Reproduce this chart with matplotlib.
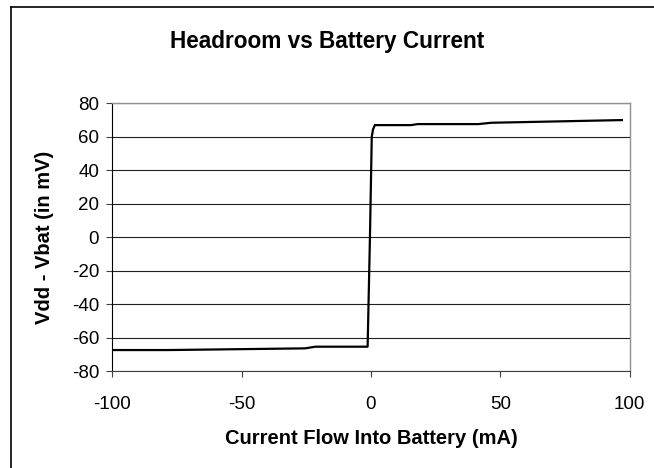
import matplotlib.pyplot as plt
from matplotlib.lines import Line2D

plt.rcParams['font.family'] = ['Liberation Sans', 'DejaVu Sans']
plt.rcParams['axes.unicode_minus'] = False

# headroom (Vdd - Vbat) against current into the battery
current_ma = [-100, -78, -25.5, -21.5, -1.3, -0.4, 0.3, 0.8, 1.5, 15.5, 18, 41.5, 46.5, 97]
headroom_mv = [-67.3, -67.3, -66.3, -65.3, -65.3, 0, 60, 64.5, 67.0, 67.0, 67.6, 67.6, 68.4, 70.0]

x_ticks = [-100, -50, 0, 50, 100]
y_ticks = list(range(-80, 81, 20))

fig = plt.figure(figsize=(6.54, 4.68), dpi=100)
ax = fig.add_axes([0.1717, 0.2066, 0.7911, 0.5726])

ax.plot(current_ma, headroom_mv, color='black', lw=1.6, solid_joinstyle='round')

ax.set_xlim(-100, 100)
ax.set_ylim(-80, 80)
ax.set_xticks(x_ticks)
ax.set_yticks(y_ticks)
ax.tick_params(labelsize=13.5, length=4.5, width=0.8, direction='out', color='#404040')
ax.tick_params(axis='x', pad=13)
ax.tick_params(axis='y', pad=5)
ax.yaxis.grid(True, color='#202020', lw=0.8)
ax.set_axisbelow(True)

for s in ['top', 'right']:
    ax.spines[s].set_color('#909090')
    ax.spines[s].set_linewidth(1.0)
ax.spines['left'].set_color('black')
ax.spines['bottom'].set_color('#404040')

ax.set_xlabel('Current Flow Into Battery (mA)', fontsize=14.5, fontweight='bold', labelpad=12)
ax.set_ylabel('Vdd - Vbat (in mV)', fontsize=14.5, fontweight='bold', labelpad=13)
fig.text(0.5, 0.912, 'Headroom vs Battery Current', ha='center', va='center',
         fontsize=16.3, fontweight='bold')

# outer chart frame (only left and top edges visible)
fig.add_artist(Line2D([11 / 654, 11 / 654], [0, 1 - 7 / 468], color='black', lw=1.2))
fig.add_artist(Line2D([11 / 654, 1], [1 - 7 / 468, 1 - 7 / 468], color='black', lw=1.2))

fig.savefig('out.png', dpi=100)
